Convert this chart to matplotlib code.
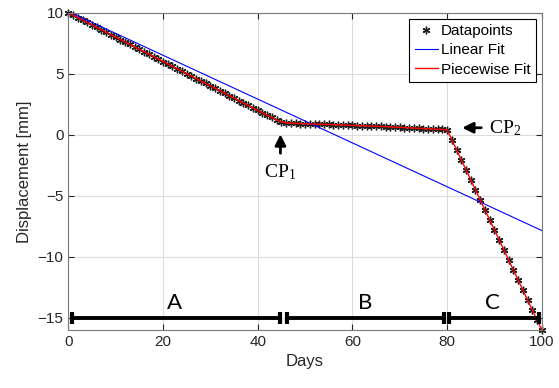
import numpy as np
import matplotlib
matplotlib.use('Agg')
import matplotlib.pyplot as plt

plt.rcParams['font.family'] = ['Liberation Sans', 'DejaVu Sans']
plt.rcParams['mathtext.default'] = 'regular'

# daily measurements (day 0..100)
days = np.arange(0, 101)
disp = [10.0, 9.8, 9.6, 9.4, 9.2, 9.0, 8.8, 8.6, 8.4, 8.2,
        8.0, 7.8, 7.6, 7.4, 7.2, 7.0, 6.8, 6.6, 6.4, 6.2,
        6.0, 5.8, 5.6, 5.4, 5.2, 5.0, 4.8, 4.6, 4.4, 4.2,
        4.0, 3.8, 3.6, 3.4, 3.2, 3.0, 2.8, 2.6, 2.4, 2.2,
        2.0, 1.8, 1.6, 1.42, 1.22, 1.05,
        0.98, 0.95, 0.93, 0.92, 0.90, 0.89, 0.88, 0.86, 0.85, 0.84,
        0.82, 0.81, 0.80, 0.78, 0.77, 0.75, 0.74, 0.72, 0.71, 0.69,
        0.68, 0.66, 0.64, 0.63, 0.61, 0.59, 0.57, 0.55, 0.53, 0.51,
        0.49, 0.47, 0.45, 0.43, 0.40,
        -0.42, -1.24, -2.06, -2.88, -3.70, -4.52, -5.34, -6.16, -6.98, -7.80,
        -8.62, -9.44, -10.26, -11.08, -11.90, -12.72, -13.54, -14.36, -15.18, -16.0]

# linear fit end points
lin_x = [0, 100]
lin_y = [10.1, -7.85]

# segments A, B, C
seg_names = ['A', 'B', 'C']
seg_start = [0.7, 46.1, 80.4]
seg_end = [44.8, 79.3, 99.4]
seg_label_x = [22.4, 62.6, 89.6]
seg_y = -15

fig = plt.figure(figsize=(5.59, 3.88), dpi=100)
ax = fig.add_axes([0.1222, 0.1495, 0.8470, 0.8178])

ax.plot(days, disp, linestyle='none', marker=(6, 2, 0), markersize=5.5,
        markeredgewidth=1.0, color='#202020', label='Datapoints', clip_on=False)
ax.plot(lin_x, lin_y, color='b', lw=0.8, label='Linear Fit')
ax.plot(days, disp, color='r', lw=1.0, label='Piecewise Fit')

# segment bars
for name, s, e, lx in zip(seg_names, seg_start, seg_end, seg_label_x):
    ax.plot([s, e], [seg_y, seg_y], color='k', lw=2.8, solid_capstyle='butt')
    ax.vlines([s, e], seg_y - 0.5, seg_y + 0.5, color='k', lw=3)
    ax.text(lx, seg_y + 0.4, name, ha='center', va='bottom',
            fontsize=16, family='Lato')

# change points
ax.annotate('', xy=(44.8, 0.26), xytext=(44.8, -1.75),
            arrowprops=dict(arrowstyle='-|>', color='k', lw=2.0, mutation_scale=16))
ax.text(44.7, -3.1, 'CP$_1$', ha='center', va='center', fontsize=14,
        family='Liberation Serif')
ax.annotate('', xy=(82.6, 0.57), xytext=(87.8, 0.57),
            arrowprops=dict(arrowstyle='-|>', color='k', lw=2.0, mutation_scale=16))
ax.text(88.9, 0.57, 'CP$_2$', ha='left', va='center', fontsize=14,
        family='Liberation Serif')

ax.set_xlim(0, 100)
ax.set_ylim(-16, 10)
ax.set_xticks([0, 20, 40, 60, 80, 100])
ax.set_yticks([-15, -10, -5, 0, 5, 10])
ax.grid(True, color='#dcdcdc', lw=0.8)
ax.set_axisbelow(True)
ax.tick_params(direction='in', top=True, right=True, labelsize=11,
               colors='#262626', length=4)
for sp in ax.spines.values():
    sp.set_color('#7a7a7a')
    sp.set_linewidth(0.8)

ax.set_xlabel('Days', fontsize=12, color='#262626')
ax.set_ylabel('Displacement [mm]', fontsize=12, color='#262626')

leg = ax.legend(loc='upper right', fontsize=11, fancybox=False, edgecolor='k',
                framealpha=1, handlelength=1.5, handletextpad=0.2,
                borderpad=0.35, labelspacing=0.35, borderaxespad=0.4)
leg.get_frame().set_linewidth(0.8)

fig.savefig('out.png', dpi=100)
